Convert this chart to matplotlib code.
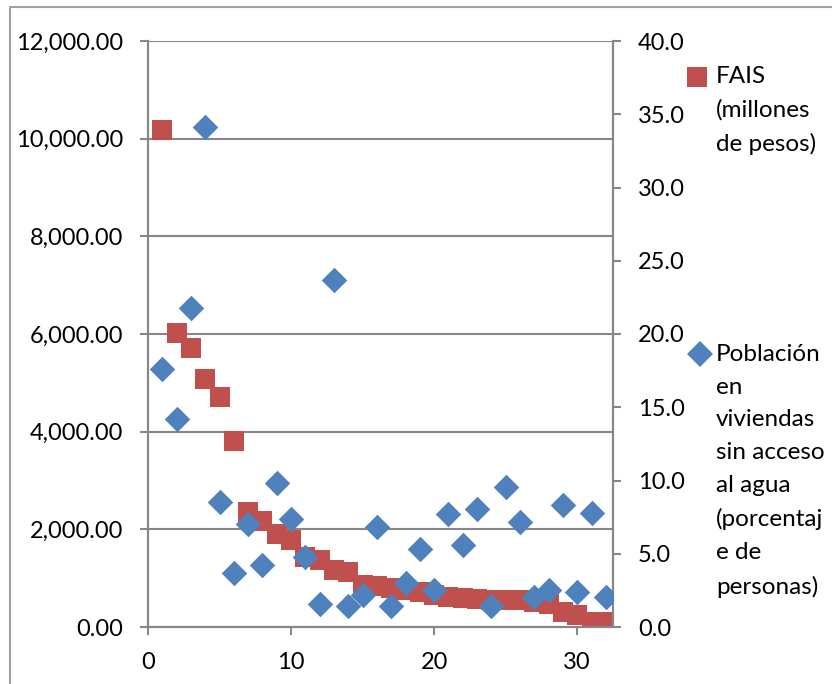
import numpy as np
import matplotlib
matplotlib.use('Agg')
import matplotlib.pyplot as plt
from matplotlib.lines import Line2D
from matplotlib.ticker import FuncFormatter

plt.rcParams['font.family'] = ['Lato', 'DejaVu Sans']

# Municipios ordenados por monto FAIS
municipio = list(range(1, 33))
fais = [10170, 6020, 5710, 5080, 4720, 3800, 2360, 2180, 1900, 1790,
        1430, 1380, 1160, 1120, 870, 840, 800, 760, 720, 660,
        615, 595, 575, 555, 550, 545, 510, 470, 310, 250, 105, 100]
sin_agua = [17.6, 14.2, 21.8, 34.1, 8.5, 3.7, 7.0, 4.2, 9.8, 7.4,
            4.8, 1.6, 23.7, 1.4, 2.2, 6.8, 1.4, 3.0, 5.3, 2.5,
            7.7, 5.6, 8.05, 1.4, 9.55, 7.2, 2.05, 2.5, 8.3, 2.4,
            7.8, 2.05]

rojo = '#C0504D'
azul = '#4F81BD'
gris = '#878787'
fs = 17

fig = plt.figure(figsize=(8.32, 6.84), dpi=100)
ax = fig.add_axes([148/832, 57/684, 465/832, 586/684])
ax2 = ax.twinx()

ax.scatter(municipio, fais, marker='s', s=14**2, color=rojo, linewidths=0, zorder=3)
ax2.scatter(municipio, sin_agua, marker='D', s=13**2, color=azul, linewidths=0, zorder=3)

ax.set_xlim(0, 32.5)
ax.set_ylim(0, 12000)
ax2.set_ylim(0, 40)
ax.set_xticks([0, 10, 20, 30])
ax.set_yticks(np.arange(0, 12001, 2000))
ax2.set_yticks(np.arange(0, 40.1, 5))
ax.yaxis.set_major_formatter(FuncFormatter(lambda v, p: f'{v:,.2f}'))
ax2.yaxis.set_major_formatter(FuncFormatter(lambda v, p: f'{v:.1f}'))

ax.grid(axis='y', color=gris, linewidth=1.5)
ax.set_axisbelow(True)
for a in (ax, ax2):
    for s in a.spines.values():
        s.set_color(gris)
        s.set_linewidth(1.5)
    a.spines['top'].set_visible(False)
    a.tick_params(colors=gris, labelcolor='black', labelsize=fs,
                  length=6, width=1.5, direction='out')
ax.tick_params(axis='y', pad=12)
ax.tick_params(axis='x', pad=12)
ax2.tick_params(axis='y', pad=12)

# Leyenda a la derecha
fig.add_artist(Line2D([697/832], [1 - 77/684], marker='s', markersize=14,
                      color=rojo, markeredgewidth=0, transform=fig.transFigure))
fig.text(716/832, 1 - 66/684, 'FAIS\n(millones\nde pesos)', fontsize=17.5,
         va='top', ha='left', linespacing=1.68)
fig.add_artist(Line2D([700/832], [1 - 354/684], marker='D', markersize=13,
                      color=azul, markeredgewidth=0, transform=fig.transFigure))
fig.text(716/832, 1 - 344/684,
         'Población\nen\nviviendas\nsin acceso\nal agua\n(porcentaj\ne de\npersonas)',
         fontsize=17.5, va='top', ha='left', linespacing=1.69)

# Borde del área del gráfico
fig.add_artist(Line2D([10/832, 10/832, 1], [0, 1 - 7/684, 1 - 7/684],
                      color='#A0A0A0', linewidth=1.5, transform=fig.transFigure))

fig.savefig('out.png', dpi=100)
